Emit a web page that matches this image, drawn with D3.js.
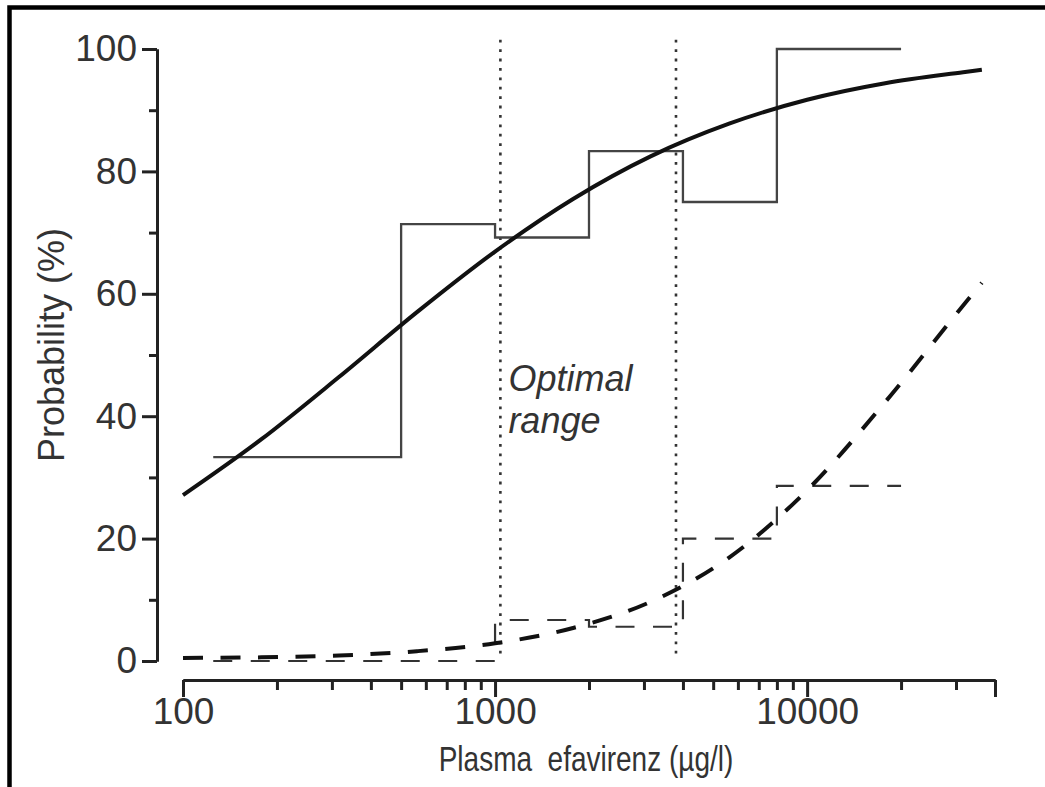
<!DOCTYPE html>
<html>
<head>
<meta charset="utf-8">
<script src="https://cdn.jsdelivr.net/npm/d3@7"></script>
<style>
  body { margin: 0; background: #fff; }
  svg { display: block; font-family: "Liberation Sans", Arial, Helvetica, sans-serif; }
  .axis path, .axis line { stroke: #222; stroke-width: 3; }
  .axis text { fill: #333; }
</style>
</head>
<body>
<script>
// bins of plasma concentration (ug/l) and observed proportions
var binEdges = [125, 500, 1000, 2000, 4000, 8000, 20000];
var observedSolid = [33.3, 71.4, 69.2, 83.3, 75.0, 100];
var observedDashed = [0, 0, 6.7, 5.6, 20.0, 28.6];

// fitted curves
var curveConc = [100, 178, 316, 562, 1000, 1778, 3162, 5623, 10000, 17783, 31623, 36300];
var fitSolid = [27.1, 36.2, 46.4, 57.0, 66.9, 75.5, 82.5, 87.8, 91.7, 94.4, 96.2, 96.6];
var fitDashed = [0.5, 0.6, 0.9, 1.6, 2.9, 5.4, 9.7, 16.9, 27.9, 42.3, 58.1, 61.8];

var optimalRange = [1040, 3800];

var xMajor = [100, 1000, 10000, 40000];
var xMinor = [200, 300, 400, 500, 600, 700, 800, 900,
              2000, 3000, 4000, 5000, 6000, 7000, 8000, 9000, 20000, 30000];
var yMajor = [0, 20, 40, 60, 80, 100];
var yMinor = [10, 30, 50, 70, 90];

var svgWidth = 1045;
var svgHeight = 787;

var svg = d3.select("body")
  .append("svg")
  .attr("width", svgWidth)
  .attr("height", svgHeight);

svg.append("rect")
  .attr("width", svgWidth)
  .attr("height", svgHeight)
  .attr("fill", "#fff");

// frame (right and bottom edges are cut off in the picture)
svg.append("path")
  .attr("d", `M9.5,${svgHeight} V7.5 H${svgWidth}`)
  .attr("fill", "none")
  .attr("stroke", "#000")
  .attr("stroke-width", 4.5);

var x = d3.scaleLog().domain([100, 40000]).range([183, 995]);
var y = d3.scaleLinear().domain([0, 100]).range([661, 49]);

// x axis
var xAxisY = 680;
svg.append("g")
  .attr("class", "axis")
  .attr("transform", `translate(0, ${xAxisY})`)
  .call(d3.axisBottom(x).tickValues(xMinor).tickSize(10).tickSizeOuter(0).tickFormat(""));

svg.append("g")
  .attr("class", "axis")
  .attr("transform", `translate(0, ${xAxisY})`)
  .call(d3.axisBottom(x).tickValues(xMajor).tickSize(17).tickSizeOuter(0).tickPadding(1)
    .tickFormat(d => d === 40000 ? "" : String(d)))
  .call(g => g.selectAll("text").attr("font-size", 37));

// y axis
var yAxisX = 157;
svg.append("g")
  .attr("class", "axis")
  .attr("transform", `translate(${yAxisX}, 0)`)
  .call(d3.axisLeft(y).tickValues(yMinor).tickSize(8).tickSizeOuter(0).tickFormat(""));

svg.append("g")
  .attr("class", "axis")
  .attr("transform", `translate(${yAxisX}, 0)`)
  .call(d3.axisLeft(y).tickValues(yMajor).tickSize(15).tickSizeOuter(0).tickPadding(5))
  .call(g => g.selectAll("text").attr("font-size", 37));

svg.selectAll(".axis text").attr("font-family", "\"Liberation Sans\", Arial, sans-serif");

// optimal range markers
svg.selectAll("line.optimal")
  .data(optimalRange)
  .enter()
  .append("line")
  .attr("class", "optimal")
  .attr("x1", d => x(d))
  .attr("x2", d => x(d))
  .attr("y1", y(101.5))
  .attr("y2", y(0.5))
  .attr("stroke", "#333")
  .attr("stroke-width", 2.6)
  .attr("stroke-dasharray", "2.8,6.6");

var optText = svg.append("text")
  .attr("x", x(optimalRange[0]) + 8)
  .attr("y", 391)
  .attr("font-size", 36)
  .attr("font-style", "italic")
  .attr("fill", "#333");
optText.append("tspan").text("Optimal");
optText.append("tspan").attr("x", x(optimalRange[0]) + 8).attr("dy", 42).text("range");

// step functions
function stepPoints(vals) {
  var pts = vals.map((v, i) => [binEdges[i], v]);
  pts.push([binEdges[binEdges.length - 1], vals[vals.length - 1]]);
  return pts;
}

var stepLine = d3.line()
  .x(d => x(d[0]))
  .y(d => y(d[1]))
  .curve(d3.curveStepAfter);

svg.append("path")
  .attr("d", stepLine(stepPoints(observedSolid)))
  .attr("fill", "none")
  .attr("stroke", "#444")
  .attr("stroke-width", 2.3);

svg.append("path")
  .attr("d", stepLine(stepPoints(observedDashed)))
  .attr("fill", "none")
  .attr("stroke", "#333")
  .attr("stroke-width", 2.2)
  .attr("stroke-dasharray", "19,18.5");

// fitted curves
var fitLine = d3.line()
  .x(d => x(d[0]))
  .y(d => y(d[1]))
  .curve(d3.curveMonotoneX);

svg.append("path")
  .attr("d", fitLine(curveConc.map((c, i) => [c, fitSolid[i]])))
  .attr("fill", "none")
  .attr("stroke", "#111")
  .attr("stroke-width", 4);

svg.append("path")
  .attr("d", fitLine(curveConc.map((c, i) => [c, fitDashed[i]])))
  .attr("fill", "none")
  .attr("stroke", "#111")
  .attr("stroke-width", 4)
  .attr("stroke-dasharray", "20,17.5");

// axis titles
svg.append("text")
  .attr("transform", "translate(586, 771) scale(1, 1.25)")
  .attr("text-anchor", "middle")
  .attr("font-size", 28)
  .attr("fill", "#333")
  .attr("xml:space", "preserve")
  .text("Plasma  efavirenz (\u00b5g/l)");

svg.append("text")
  .attr("transform", "translate(64, 345) rotate(-90)")
  .attr("text-anchor", "middle")
  .attr("font-size", 36)
  .attr("fill", "#333")
  .text("Probability (%)");
</script>
</body>
</html>
